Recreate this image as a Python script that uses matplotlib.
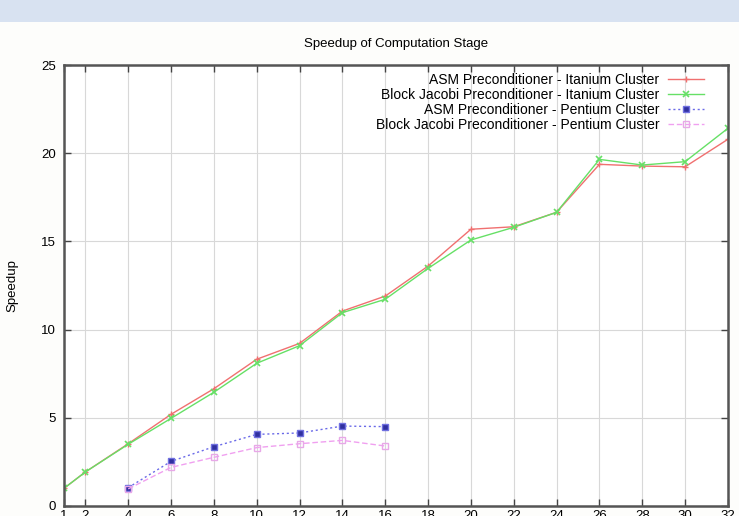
import matplotlib.pyplot as plt
from matplotlib.patches import Rectangle

plt.rcParams['font.family'] = ['Liberation Sans', 'DejaVu Sans']

# processor counts
procs_itanium = [1, 2, 4, 6, 8, 10, 12, 14, 16, 18, 20, 22, 24, 26, 28, 30, 32]
procs_pentium = [4, 6, 8, 10, 12, 14, 16]

# measured speedups
asm_itanium = [1.0, 1.93, 3.53, 5.2, 6.65, 8.32, 9.22, 11.05, 11.9,
               13.6, 15.69, 15.83, 16.65, 19.37, 19.27, 19.23, 20.79]
bj_itanium = [1.0, 1.93, 3.5, 4.97, 6.45, 8.09, 9.09, 10.96, 11.72,
              13.47, 15.08, 15.8, 16.65, 19.65, 19.33, 19.52, 21.41]
asm_pentium = [1.04, 2.53, 3.36, 4.06, 4.14, 4.53, 4.5]
bj_pentium = [0.97, 2.19, 2.76, 3.31, 3.53, 3.72, 3.4]

xticks = [1, 2, 4, 6, 8, 10, 12, 14, 16, 18, 20, 22, 24, 26, 28, 30, 32]
yticks = [0, 5, 10, 15, 20, 25]

fig = plt.figure(figsize=(7.39, 5.16), dpi=100)
fig.patch.set_facecolor('#fdfdfb')
# pale blue band across the top
fig.add_artist(Rectangle((0, 0.957), 1, 0.043, transform=fig.transFigure,
                         facecolor='#d8e2f1', edgecolor='none'))

ax = fig.add_axes([0.0866, 0.0194, 0.8984, 0.8546])
ax.set_facecolor('white')

ax.plot(procs_itanium, asm_itanium, color='#f07070', lw=1.0, marker='+',
        ms=5, mew=1.0, label='ASM Preconditioner - Itanium Cluster')
ax.plot(procs_itanium, bj_itanium, color='#66e066', lw=1.0, marker='x',
        ms=4, mew=1.2, label='Block Jacobi Preconditioner - Itanium Cluster')
ax.plot(procs_pentium, asm_pentium, color='#6a6ae8', lw=1.0, ls=(0, (1.5, 2)),
        marker='s', ms=4, mfc='#3030a0', mec='#7070e0',
        label='ASM Preconditioner - Pentium Cluster')
ax.plot(procs_pentium, bj_pentium, color='#f0a0f0', lw=1.0, ls=(0, (4, 2)),
        marker='s', ms=5, mfc='none', mec='#e8a8e8',
        label='Block Jacobi Preconditioner - Pentium Cluster')

ax.set_xlim(1, 32)
ax.set_ylim(0, 25)
ax.set_xticks(xticks)
ax.set_yticks(yticks)
ax.grid(True, color='#d8d8d8', lw=0.8)
ax.tick_params(direction='in', length=5, width=1, color='#444444',
               top=True, right=True, labelsize=9.5)
ax.tick_params(axis='x', pad=3)
ax.tick_params(axis='y', pad=6)
for sp in ax.spines.values():
    sp.set_color('#555555')
    sp.set_linewidth(1.8)

ax.set_title('Speedup of Computation Stage', fontsize=9.5, pad=13)
ax.set_ylabel('Speedup', fontsize=9.5, labelpad=16)

leg = ax.legend(loc='upper right', bbox_to_anchor=(0.975, 1.0), fontsize=10,
                frameon=False, markerfirst=False, handlelength=2.6,
                labelspacing=0.08, borderaxespad=0.15, handletextpad=0.6)
for t in leg.get_texts():
    t.set_ha('right')
leg._legend_box.align = 'right'

fig.savefig('out.png', dpi=100, facecolor=fig.get_facecolor())
